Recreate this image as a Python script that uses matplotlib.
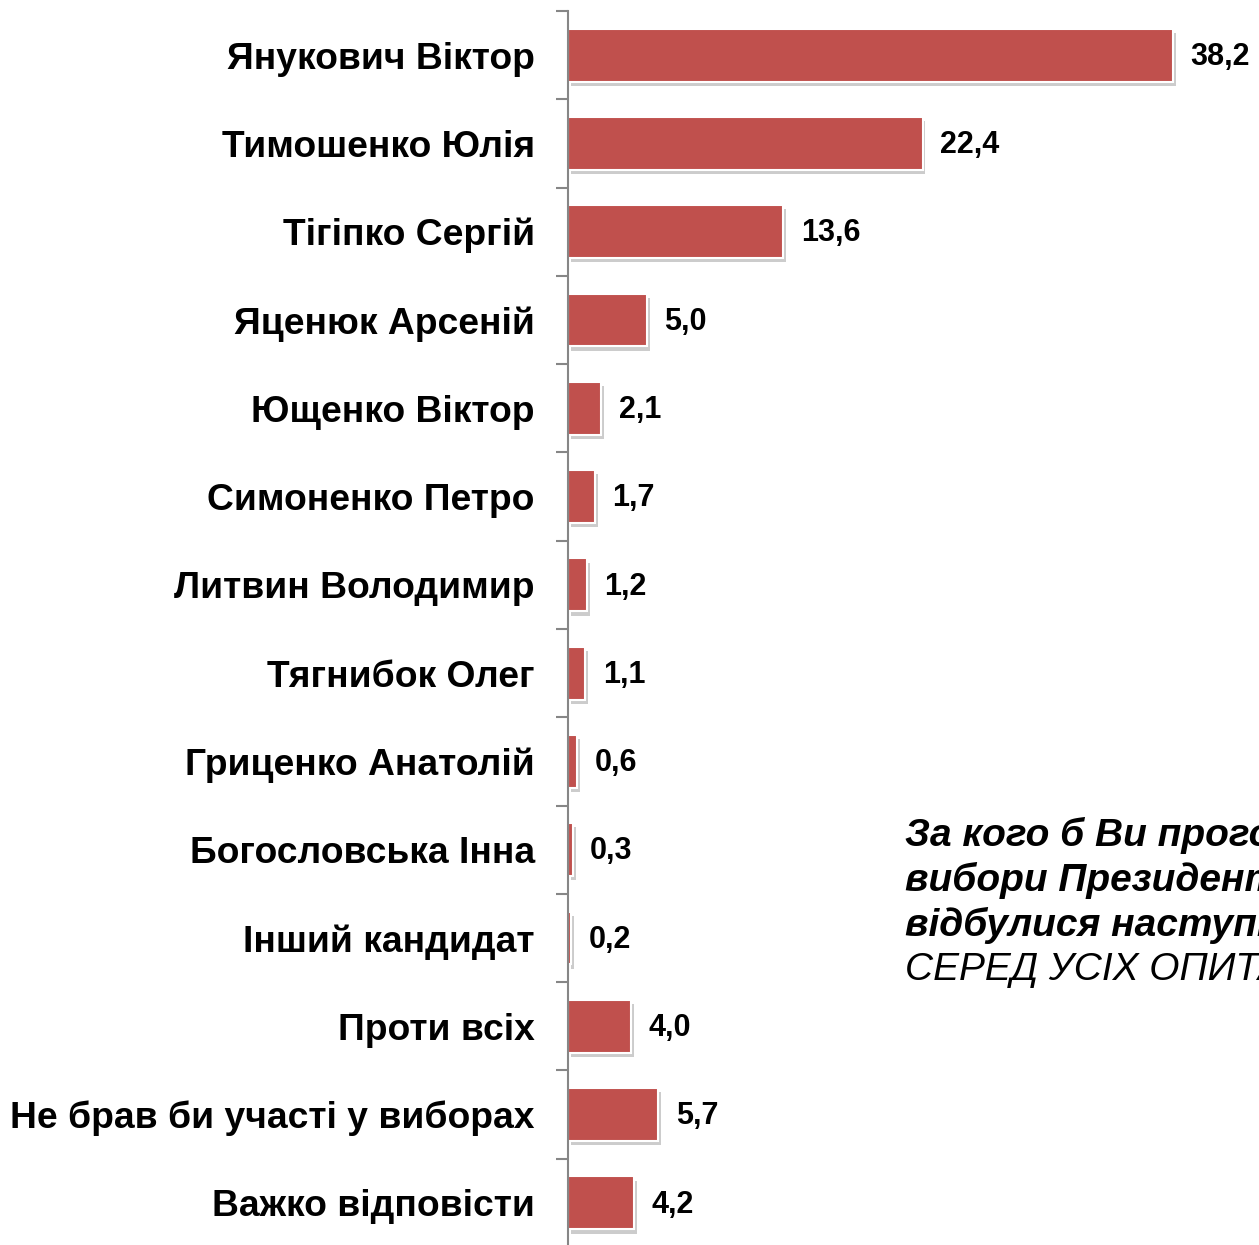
import matplotlib
matplotlib.use("Agg")
import matplotlib.pyplot as plt
import matplotlib.patheffects as pe
import numpy as np

plt.rcParams['font.family'] = ['Liberation Sans', 'DejaVu Sans']

# data
candidates = ['Янукович Віктор', 'Тимошенко Юлія', 'Тігіпко Сергій', 'Яценюк Арсеній',
              'Ющенко Віктор', 'Симоненко Петро', 'Литвин Володимир', 'Тягнибок Олег',
              'Гриценко Анатолій', 'Богословська Інна', 'Інший кандидат', 'Проти всіх',
              'Не брав би участі у виборах', 'Важко відповісти']
values = [38.2, 22.4, 13.6, 5.0, 2.1, 1.7, 1.2, 1.1, 0.6, 0.3, 0.2, 4.0, 5.7, 4.2]
question = ['За кого б Ви проголосували, якби', 'вибори Президента України',
            'відбулися наступної неділі?']
subtitle = 'СЕРЕД УСІХ ОПИТАНИХ'

W, H = 1259, 1245
fig = plt.figure(figsize=(W / 100, H / 100), dpi=100)
ax = fig.add_axes([568 / W, -2 / H, 1 - 568 / W, (1245 - 11 + 2) / H])

y = np.arange(len(candidates))
bars = ax.barh(y, values, height=0.6, color='#C0504D', edgecolor='white', linewidth=1.5)
for b in bars:
    b.set_path_effects([pe.SimplePatchShadow(offset=(2, -3), shadow_rgbFace='#808080', alpha=0.4),
                        pe.Normal()])

for yi, v in zip(y, values):
    ax.text(v + 1.1, yi + 0.02, f'{v:.1f}'.replace('.', ','), va='center', ha='left',
            fontsize=22, fontweight='bold', color='black')

ax.set_xlim(0, 690 / 15.81)
ax.set_ylim(len(candidates) - 0.5, -0.5)
ax.set_yticks(y)
ax.set_yticklabels(candidates, fontsize=26.8, fontweight='bold')
ax.set_yticks(np.arange(len(candidates) + 1) - 0.5, minor=True)
ax.tick_params(axis='y', which='major', length=0, pad=24)
ax.tick_params(axis='y', which='minor', length=9, width=1.5, color='#868686')
ax.set_xticks([])
for s in ['top', 'right', 'bottom']:
    ax.spines[s].set_visible(False)
ax.spines['left'].set_color('#868686')
ax.spines['left'].set_linewidth(1.5)

# side caption (cut off at figure edge like the original)
for i, line in enumerate(question):
    fig.text(905 / W, 1 - (835 + 45 * i) / H, line, fontsize=28, fontweight='bold',
             fontstyle='italic', va='center', ha='left')
fig.text(905 / W, 1 - (835 + 45 * 3) / H, subtitle, fontsize=28, fontstyle='italic',
         va='center', ha='left')

fig.savefig('out.png', dpi=100)
